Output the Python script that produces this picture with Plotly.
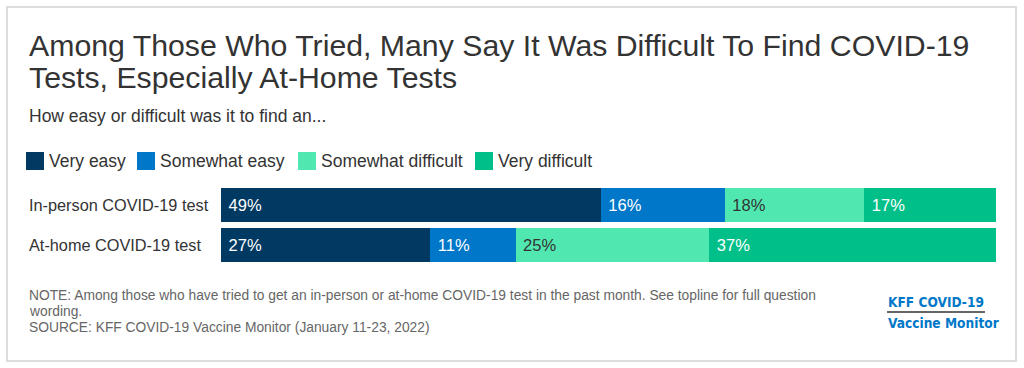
import plotly.graph_objects as go

# ---------------- data ----------------
categories = ["In-person COVID-19 test", "At-home COVID-19 test"]
series_names = ["Very easy", "Somewhat easy", "Somewhat difficult", "Very difficult"]
very_easy = [49, 27]
somewhat_easy = [16, 11]
somewhat_difficult = [18, 25]
very_difficult = [17, 37]

title_lines = [
    "Among Those Who Tried, Many Say It Was Difficult To Find COVID-19",
    "Tests, Especially At-Home Tests",
]
subtitle = "How easy or difficult was it to find an..."
note_lines = [
    "NOTE: Among those who have tried to get an in-person or at-home COVID-19 test in the past month. See topline for full question",
    "wording.",
    "SOURCE: KFF COVID-19 Vaccine Monitor (January 11-23, 2022)",
]
logo_lines = ["KFF COVID-19", "Vaccine Monitor"]

# ---------------- styles ----------------
colors = ["#003a63", "#0077c8", "#50e8b0", "#00bf88"]
label_colors = ["#ffffff", "#ffffff", "#333333", "#ffffff"]
FONT = "Liberation Sans, Arial, Helvetica, sans-serif"

W, H = 1024, 368
L, R = 221, 996   # plot area x in px
T, B = 185, 265   # plot area y in px


def px(x):
    return (x - L) / (R - L)


def py(y):
    return (B - y) / (B - T)


series_values = [very_easy, somewhat_easy, somewhat_difficult, very_difficult]

fig = go.Figure()
for name, vals, col, lc in zip(series_names, series_values, colors, label_colors):
    fig.add_trace(go.Bar(
        y=categories,
        x=vals,
        name=name,
        orientation="h",
        marker=dict(color=col, line=dict(width=0)),
        texttemplate="\u00a0%{x}%",
        textposition="inside",
        insidetextanchor="start",
        textangle=0,
        insidetextfont=dict(family=FONT, size=16.5, color=lc),
        hoverinfo="skip",
        showlegend=False,
    ))

annotations = []
shapes = []

# title
for i, (line, yc) in enumerate(zip(title_lines, [45, 77.5])):
    annotations.append(dict(
        text=line, xref="paper", yref="paper", x=px(27), y=py(yc),
        xanchor="left", yanchor="middle", showarrow=False,
        font=dict(family=FONT, size=30.25, color="#333333"),
    ))

# subtitle
annotations.append(dict(
    text=subtitle, xref="paper", yref="paper", x=px(27), y=py(116),
    xanchor="left", yanchor="middle", showarrow=False,
    font=dict(family=FONT, size=17.5, color="#333333"),
))

# legend (manual)
legend_x = [26, 137, 298, 475]
for name, col, lx in zip(series_names, colors, legend_x):
    shapes.append(dict(
        type="rect", xref="paper", yref="paper",
        x0=px(lx), x1=px(lx + 18), y0=py(152), y1=py(170),
        fillcolor=col, line=dict(width=0),
    ))
    annotations.append(dict(
        text=name, xref="paper", yref="paper", x=px(lx + 21), y=py(161),
        xanchor="left", yanchor="middle", showarrow=False,
        font=dict(family=FONT, size=17.5, color="#333333"),
    ))

# category labels (left aligned)
for cat in categories:
    annotations.append(dict(
        text=cat, xref="paper", yref="y", x=px(27), y=cat,
        xanchor="left", yanchor="middle", showarrow=False,
        font=dict(family=FONT, size=16.3, color="#333333"),
    ))

# notes
for line, yc in zip(note_lines, [295, 311, 327]):
    annotations.append(dict(
        text=line, xref="paper", yref="paper", x=px(27), y=py(yc),
        xanchor="left", yanchor="middle", showarrow=False,
        font=dict(family=FONT, size=13.8, color="#666666"),
    ))

# logo
LOGO_FONT = "DejaVu Sans Condensed, Roboto, sans-serif"
annotations.append(dict(
    text="<b>%s</b>" % logo_lines[0], xref="paper", yref="paper", x=px(886), y=py(302),
    xanchor="left", yanchor="middle", showarrow=False,
    font=dict(family=LOGO_FONT, size=13.6, color="#0077c8"),
))
annotations.append(dict(
    text="<b>%s</b>" % logo_lines[1], xref="paper", yref="paper", x=px(886), y=py(323),
    xanchor="left", yanchor="middle", showarrow=False,
    font=dict(family=LOGO_FONT, size=13.6, color="#0077c8"),
))
shapes.append(dict(
    type="line", xref="paper", yref="paper",
    x0=px(887), x1=px(985), y0=py(312), y1=py(312),
    line=dict(color="#333333", width=1.5),
))

# frame
shapes.append(dict(
    type="rect", xref="paper", yref="paper",
    x0=px(7), x1=px(1016), y0=py(361), y1=py(7),
    line=dict(color="#dddddd", width=2), fillcolor="rgba(0,0,0,0)", layer="below",
))

fig.update_layout(
    width=W, height=H,
    margin=dict(l=L, r=W - R, t=T, b=H - B, pad=0),
    barmode="stack",
    bargap=0.15,
    plot_bgcolor="white",
    paper_bgcolor="white",
    showlegend=False,
    xaxis=dict(range=[0, 100], visible=False, fixedrange=True),
    yaxis=dict(type="category", autorange="reversed", visible=False, fixedrange=True),
    annotations=annotations,
    shapes=shapes,
    font=dict(family=FONT),
)

fig.write_html(
    "out.html",
    config={"displayModeBar": False},
    post_script="document.body.style.margin='0';document.body.style.overflow='hidden';",
)
